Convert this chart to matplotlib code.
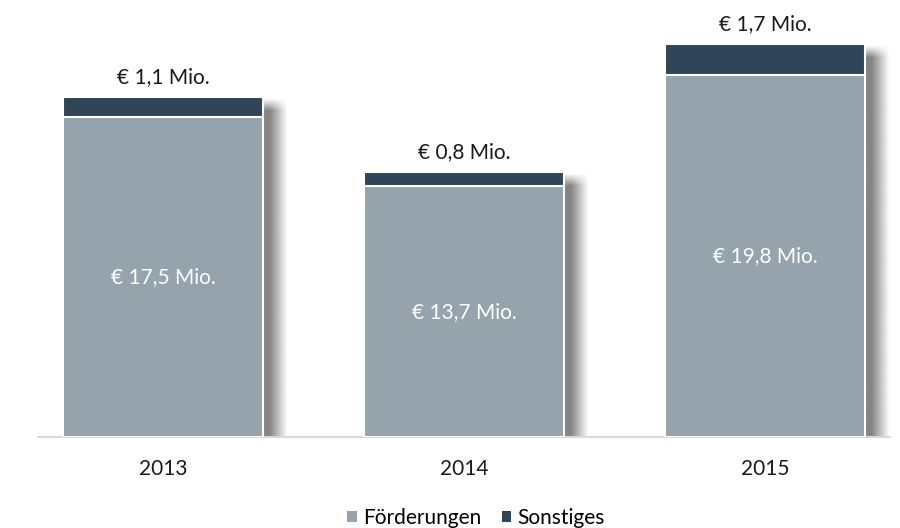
import matplotlib
matplotlib.use("Agg")
import matplotlib.pyplot as plt
import numpy as np

years = ["2013", "2014", "2015"]
foerderungen = [17.5, 13.7, 19.8]
sonstiges = [1.1, 0.8, 1.7]
foerd_labels = ["€ 17,5 Mio.", "€ 13,7 Mio.", "€ 19,8 Mio."]
sonst_labels = ["€ 1,1 Mio.", "€ 0,8 Mio.", "€ 1,7 Mio."]

c_f = "#95a3ad"
c_s = "#2f4558"

plt.rcParams['font.family'] = ['Lato', 'DejaVu Sans']

fig = plt.figure(figsize=(9, 5.28), dpi=100)
ax = fig.add_axes([38/900, (528-437)/528, 852/900, 437/528])
x = np.arange(len(years))
w = 0.665
ppx = 301.0   # pixels per x unit
ppy = 18.3    # pixels per y unit
ax.set_xlim(-0.415, 2.415)
ax.set_ylim(0, 437/ppy)

# soft shadows on the right of each bar
for i in range(len(years)):
    total = foerderungen[i] + sonstiges[i]
    hpx = int(total * ppy)
    xs = np.arange(-4, 24)
    prof_x = np.clip(1 - (xs - 6) / 17.0, 0, 1)
    prof_x[xs < 6] = 1.0
    ys = np.arange(hpx)  # 0 = top
    prof_y = np.clip((ys - 2) / 12.0, 0, 1)
    alpha = 0.6 * np.outer(prof_y, prof_x)
    img = np.zeros((hpx, len(xs), 4))
    img[..., 0:3] = 0.2
    img[..., 3] = alpha
    x0 = x[i] + w/2 + xs[0] / ppx
    x1 = x[i] + w/2 + (xs[-1] + 1) / ppx
    ax.imshow(img, extent=[x0, x1, 0, total], origin="upper", aspect="auto",
              zorder=1, interpolation="bilinear")

ax.bar(x, foerderungen, width=w, color=c_f, edgecolor="white", linewidth=1.5, zorder=3, label="Förderungen")
ax.bar(x, sonstiges, width=w, bottom=foerderungen, color=c_s, edgecolor="white", linewidth=1.5, zorder=3, label="Sonstiges")

for i in range(len(years)):
    ax.text(x[i], foerderungen[i]/2, foerd_labels[i], ha="center", va="center", color="white", fontsize=15, zorder=4)
    ax.text(x[i], foerderungen[i] + sonstiges[i] + 0.5, sonst_labels[i], ha="center", va="bottom", color="#1a1a1a", fontsize=15, zorder=4)

ax.set_xlim(-0.415, 2.415)
ax.set_ylim(0, 437/ppy)
for s in ["top", "right", "left"]:
    ax.spines[s].set_visible(False)
ax.spines["bottom"].set_color("#d9d9d9")
ax.spines["bottom"].set_linewidth(1.5)
ax.set_yticks([])
ax.set_xticks(x)
ax.set_xticklabels(years, fontsize=15, color="#1a1a1a")
ax.tick_params(axis="x", length=0, pad=16)

leg = fig.legend(loc="lower center", bbox_to_anchor=(0.529, -0.035), ncol=2, frameon=False, fontsize=15,
                 handlelength=0.45, handleheight=0.45, handletextpad=0.3, columnspacing=1.0)
for h in leg.legend_handles:
    h.set_edgecolor("none")

fig.savefig("out.png", dpi=100)
